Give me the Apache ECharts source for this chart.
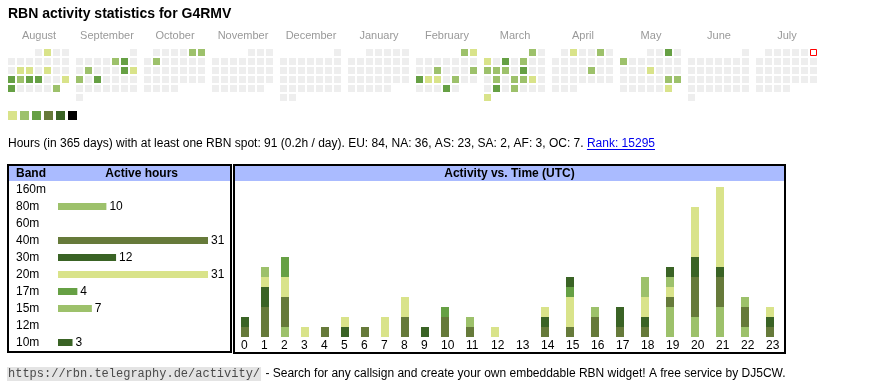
<!DOCTYPE html>
<html><head><meta charset="utf-8">
<script src="https://cdn.jsdelivr.net/npm/echarts@6/dist/echarts.min.js"></script>
<style>html,body{margin:0;padding:0;background:#fff}#c{width:870px;height:390px}</style>
</head><body><div id="c"></div>
<script>
// ---------- data ----------
const months = ['2024-08','2024-09','2024-10','2024-11','2024-12','2025-01','2025-02','2025-03','2025-04','2025-05','2025-06','2025-07'];
const monthNames = ['August','September','October','November','December','January','February','March','April','May','June','July'];
// [date, activity level]
const activeDays = [
 ['2024-08-02',1],['2024-08-13',1],['2024-08-14',1],['2024-08-16',1],['2024-08-19',3],['2024-08-20',2],['2024-08-21',3],['2024-08-22',3],['2024-08-25',1],['2024-08-26',3],['2024-08-31',2],
 ['2024-09-06',2],['2024-09-07',3],['2024-09-10',2],['2024-09-14',3],['2024-09-15',1],['2024-09-16',2],['2024-09-18',3],
 ['2024-10-05',2],['2024-10-06',2],['2024-10-08',2],
 ['2025-02-01',2],['2025-02-02',1],['2025-02-12',2],['2025-02-16',2],['2025-02-17',3],['2025-02-18',1],['2025-02-19',1],['2025-02-21',2],['2025-02-27',3],
 ['2025-03-01',2],['2025-03-03',1],['2025-03-05',3],['2025-03-07',2],['2025-03-10',2],['2025-03-11',2],['2025-03-12',2],['2025-03-14',3],['2025-03-18',2],['2025-03-20',2],['2025-03-21',2],['2025-03-22',1],['2025-03-25',3],['2025-03-27',2],['2025-03-31',1],
 ['2025-04-02',1],['2025-04-05',2],['2025-04-18',2],
 ['2025-05-03',3],['2025-05-05',2],['2025-05-15',1],['2025-05-24',2],['2025-05-25',2],['2025-05-31',1]
];
const today = '2025-07-06';
const levelColors = ['#d9e38a','#9dc16b','#66a044','#667a3a','#3a6325','#000000'];

const continents = ['EU','NA','AS','SA','AF','OC'];
const continentHours = [84,36,23,2,3,7];
const totalHours = 91;
const rank = 15295;

const bands = ['160m','80m','60m','40m','30m','20m','17m','15m','12m','10m'];
const bandHours = [0,10,0,31,12,31,4,7,0,3];
const bandColors = ['#c9c9c9','#9dc16b','#b5b5b5','#667a3a','#3a6325','#d9e38a','#66a044','#9dc16b','#999999','#3a6325'];

const hourLabels = ['0','1','2','3','4','5','6','7','8','9','10','11','12','13','14','15','16','17','18','19','20','21','22','23'];
const hourly80m = [0,0,1,0,0,0,0,0,0,0,0,0,0,0,0,0,0,0,0,3,2,3,1,0];
const hourly40m = [1,3,3,0,1,0,1,0,2,0,2,1,0,0,1,1,2,1,1,1,4,3,2,1];
const hourly30m = [1,2,0,0,0,1,0,0,0,0,0,0,0,0,1,0,0,2,1,0,2,1,0,1];
const hourly20m = [0,1,2,1,0,1,0,2,2,0,0,0,1,0,1,3,0,0,2,1,5,8,0,1];
const hourly17m = [0,0,2,0,0,0,0,0,0,0,1,0,0,0,0,1,0,0,0,0,0,0,0,0];
const hourly15m = [0,1,0,0,0,0,0,0,0,0,0,1,0,0,0,0,1,0,2,1,0,0,1,0];
const hourly10m = [0,0,0,0,0,0,0,0,0,1,0,0,0,0,0,1,0,0,0,1,0,0,0,0];
// stacking order, bottom to top
const hourlyBands = [['80m',hourly80m],['40m',hourly40m],['30m',hourly30m],['20m',hourly20m],['17m',hourly17m],['15m',hourly15m],['10m',hourly10m]];

// ---------- layout helpers ----------
const SANS = '"Liberation Sans", Arial, sans-serif';
const MONO = '"Liberation Mono", "Courier New", monospace';
const mctx = document.createElement('canvas').getContext('2d');
function textWidth(font, s){ mctx.font = font; return mctx.measureText(s).width; }

// hour columns behave like html table cells: narrow for 1-digit labels, wider for 2-digit
const colStart = [];
{ let acc = 0; hourLabels.forEach(h => { colStart.push(acc); acc += h.length === 1 ? 20 : 25; }); }
const colCenter = colStart.map(v => v + 4);

const calLeft0 = 7, calPitch = 68, calTop = 48;

// ---------- option ----------
const calendars = months.map((m, i) => ({
  orient: 'vertical', range: m, left: calLeft0 + calPitch * i, top: calTop,
  cellSize: [9, 9], silent: true,
  splitLine: { show: false },
  itemStyle: { color: '#eeeeee', borderColor: '#ffffff', borderWidth: 2 },
  dayLabel: { show: false, firstDay: 1 }, monthLabel: { show: false }, yearLabel: { show: false }
}));

const series = [];
months.forEach((m, i) => {
  series.push({
    type: 'heatmap', coordinateSystem: 'calendar', calendarIndex: i, silent: true,
    data: activeDays.filter(d => d[0].startsWith(m))
  });
});
series.push({
  type: 'scatter', coordinateSystem: 'calendar', calendarIndex: months.indexOf(today.slice(0,7)), silent: true,
  data: [[today, 1]], symbol: 'rect', symbolSize: 6,
  itemStyle: { color: '#ffffff', borderColor: '#ff0000', borderWidth: 1, opacity: 1 }
});
series.push({
  type: 'bar', xAxisIndex: 0, yAxisIndex: 0, barWidth: 7, silent: true,
  data: bandHours.map((v, i) => ({ value: v, itemStyle: { color: bandColors[i] } })),
  label: { show: true, position: 'right', distance: 3, color: '#000', fontSize: 12, fontFamily: SANS,
           formatter: p => (p.value > 0 ? String(p.value) : '') }
});
// stacked hourly bars: each band is drawn up to its running total, upper bands first,
// so each lower band paints over the part of the column that belongs to it
const running = hourLabels.map(() => 0);
const stackedTops = hourlyBands.map(([b, arr]) => arr.map((v, k) => (running[k] += v)));
for (let j = hourlyBands.length - 1; j >= 0; j--) {
  const b = hourlyBands[j][0];
  series.push({
    type: 'bar', xAxisIndex: 1, yAxisIndex: 1, barWidth: 8, barGap: '-100%', silent: true,
    name: b, itemStyle: { color: bandColors[bands.indexOf(b)] },
    data: stackedTops[j].map((v, k) => [colCenter[k], v])
  });
}

// text pieces
const statFont = '12px ' + SANS;
const statText = 'Hours (in 365 days) with at least one RBN spot: ' + totalHours + ' (' + (totalHours/365).toFixed(1) +
  'h / day). ' + continents.map((c, i) => c + ': ' + continentHours[i]).join(', ') + '. ';
const statW = textWidth(statFont, statText);
const rankText = 'Rank: ' + rank;
const rankW = textWidth(statFont, rankText);
const linkText = 'https://rbn.telegraphy.de/activity/';
const monoFont = '12px ' + MONO;
const linkW = textWidth(monoFont, linkText);
const footFont = '12px ' + SANS;

const graphic = [
  { type: 'text', x: 8, y: 14, style: { text: 'RBN activity statistics for G4RMV', font: 'bold 14px ' + SANS, fill: '#000', textVerticalAlign: 'middle', verticalAlign: 'middle' } },
  ...monthNames.map((n, i) => ({ type: 'text', x: calLeft0 + calPitch * i + 32, y: 35.5,
      style: { text: n, font: '11px ' + SANS, fill: '#999999', textAlign: 'center', align: 'center', textVerticalAlign: 'middle', verticalAlign: 'middle' } })),
  { type: 'text', x: 8, y: 144, style: { text: statText, font: statFont, fill: '#000', textVerticalAlign: 'middle', verticalAlign: 'middle' } },
  { type: 'text', x: 8 + statW, y: 144, style: { text: rankText, font: statFont, fill: '#0000ee', textVerticalAlign: 'middle', verticalAlign: 'middle' } },
  { type: 'line', shape: { x1: 8 + statW, y1: 149.5, x2: 8 + statW + rankW, y2: 149.5 }, style: { stroke: '#0000ee', lineWidth: 1 } },
  // band table frame
  { type: 'rect', shape: { x: 9, y: 166, width: 221, height: 15 }, style: { fill: '#aabbff' } },
  { type: 'rect', shape: { x: 8, y: 165, width: 223, height: 187 }, style: { fill: 'none', stroke: '#000', lineWidth: 2 } },
  { type: 'text', x: 16, y: 173.5, style: { text: 'Band', font: 'bold 12px ' + SANS, fill: '#000', textVerticalAlign: 'middle', verticalAlign: 'middle' } },
  { type: 'text', x: 141.7, y: 173.5, style: { text: 'Active hours', font: 'bold 12px ' + SANS, fill: '#000', textAlign: 'center', align: 'center', textVerticalAlign: 'middle', verticalAlign: 'middle' } },
  // activity frame
  { type: 'rect', shape: { x: 235, y: 166, width: 549, height: 15 }, style: { fill: '#aabbff' } },
  { type: 'rect', shape: { x: 234, y: 165, width: 551, height: 188 }, style: { fill: 'none', stroke: '#000', lineWidth: 2 } },
  { type: 'text', x: 509.5, y: 173.5, style: { text: 'Activity vs. Time (UTC)', font: 'bold 12px ' + SANS, fill: '#000', textAlign: 'center', align: 'center', textVerticalAlign: 'middle', verticalAlign: 'middle' } },
  // footer
  { type: 'rect', shape: { x: 7, y: 367, width: linkW + 2, height: 14 }, style: { fill: '#e4e4e4' } },
  { type: 'text', x: 8, y: 374, style: { text: linkText, font: monoFont, fill: '#4a4a4a', textVerticalAlign: 'middle', verticalAlign: 'middle' } },
  { type: 'text', x: 8 + linkW + 2, y: 374, style: { text: ' - Search for any callsign and create your own embeddable RBN widget! A free service by DJ5CW.', font: footFont, fill: '#000', textVerticalAlign: 'middle', verticalAlign: 'middle' } }
];

const option = {
  animation: false,
  backgroundColor: '#ffffff',
  textStyle: { fontFamily: SANS },
  calendar: calendars,
  visualMap: {
    type: 'piecewise', seriesIndex: months.map((m, i) => i), orient: 'horizontal',
    left: 8, top: 111, padding: 0, itemWidth: 9, itemHeight: 9, itemGap: 3,
    showLabel: false, itemSymbol: 'rect', selectedMode: false, hoverLink: false,
    pieces: levelColors.map((c, i) => (i < levelColors.length - 1 ? { value: i + 1, color: c } : { min: i + 1, color: c }))
  },
  grid: [
    { left: 58, top: 181, width: 150, height: 170, outerBoundsMode: 'none' },
    { left: 241, top: 187, width: 550, height: 150, outerBoundsMode: 'none' }
  ],
  xAxis: [
    { type: 'value', gridIndex: 0, min: 0, max: 31, show: false },
    { type: 'value', gridIndex: 1, min: 0, max: 550,
      axisLine: { show: false }, axisTick: { show: false }, splitLine: { show: false },
      axisLabel: { customValues: colStart, align: 'left', margin: 3, color: '#000', fontSize: 12, fontFamily: SANS,
                   formatter: v => hourLabels[colStart.indexOf(v)] } }
  ],
  yAxis: [
    { type: 'category', gridIndex: 0, data: bands, inverse: true,
      axisLine: { show: false }, axisTick: { show: false }, splitLine: { show: false },
      axisLabel: { align: 'left', margin: 42, color: '#000', fontSize: 12, fontFamily: SANS } },
    { type: 'value', gridIndex: 1, min: 0, max: 15, show: false }
  ],
  graphic: graphic,
  series: series
};
const chart = echarts.init(document.getElementById('c'), null, { renderer: 'canvas' });
chart.setOption(option);
</script></body></html>
